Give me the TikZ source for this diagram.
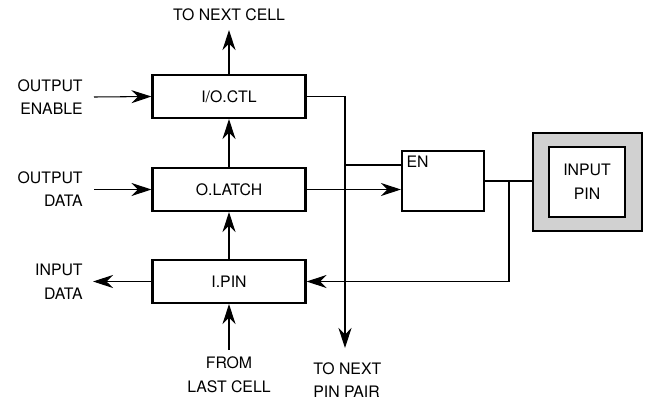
\documentclass[tikz,border=0pt]{standalone}
\usepackage{fontspec}
\setmainfont{TeX Gyre Heros}
\usepackage{tikz}
\usetikzlibrary{arrows.meta,positioning,calc}

\begin{document}
\begin{tikzpicture}[x=0.02cm, y=-0.02cm,
    block/.style={draw, line width=1.2pt, rectangle, minimum width=3.06cm, minimum height=0.86cm, font=\lblfont},
    lbl/.style={inner sep=0pt, font=\lblfont},
    wire/.style={line width=0.6pt},
    arr/.style={wire, -{Stealth[length=4mm, width=2.6mm, inset=1.3mm]}}]
    \providecommand{\lblfont}{\fontsize{9}{13.5}\selectfont}
    \useasboundingbox (0,0) rectangle (646,413);
    % cell blocks
    \node[block] (ioctl) at (229,96.5) {I/O.CTL};
    \node[block] (olatch) at (229,189.5) {O.LATCH};
    \node[block] (ipin) at (229,281.5) {I.PIN};
    \node[draw, line width=1.2pt, minimum width=1.64cm, minimum height=1.2cm] (en) at (443,181) {};
    \node[lbl, anchor=north west, inner sep=3pt] (enlbl) at (en.north west) {EN};
    % input pin
    \node[draw, line width=1.2pt, fill=black!18, minimum width=2.18cm, minimum height=1.96cm] (pinouter) at (587.5,182) {};
    \node[draw, line width=1pt, fill=white, minimum width=1.52cm, minimum height=1.4cm, align=center, font=\lblfont] (pininner) at (587,182) {INPUT\\PIN};
    % labels
    \node[lbl] (nextcell) at (229,15) {TO NEXT CELL};
    \node[lbl, anchor=east, align=right] (oenable) at (83,97) {OUTPUT\\ENABLE};
    \node[lbl, anchor=east, align=right] (odata) at (83,189) {OUTPUT\\DATA};
    \node[lbl, anchor=east, align=right] (idata) at (83,282) {INPUT\\DATA};
    \node[lbl, align=center] (lastcell) at (229,375) {FROM\\LAST CELL};
    \node[lbl, anchor=north west, align=left] (nextpair) at (313,362) {TO NEXT\\PIN PAIR};
    % free ends
    \coordinate (cellOut) at (229,30);
    \coordinate (oeIn) at (94,97);
    \coordinate (odIn) at (94,189.5);
    \coordinate (idOut) at (93,281.5);
    \coordinate (lcIn) at (229,350);
    \coordinate (busEnd) at (345,348);
    \coordinate (enTap) at (345,165);
    \coordinate (pinTap) at (509,181);
    % connectors
    \draw[arr] (ioctl.north) -- (cellOut);
    \draw[arr] (oeIn) -- (ioctl.west);
    \draw[arr] (odIn) -- (olatch.west);
    \draw[arr] (ipin.west) -- (idOut);
    \draw[arr] (olatch.north) -- (ioctl.south);
    \draw[arr] (ipin.north) -- (olatch.south);
    \draw[arr] (lcIn) -- (ipin.south);
    \draw[arr] (ioctl.east) -| (busEnd);
    \draw[wire] (enTap) -- (enTap -| en.west);
    \draw[arr] (olatch.east) -- (olatch.east -| en.west);
    \draw[wire, line width=0.9pt] (en.east) -- (en.east -| pinouter.west);
    \draw[arr] (pinTap) |- (ipin.east);
\end{tikzpicture}
\end{document}
